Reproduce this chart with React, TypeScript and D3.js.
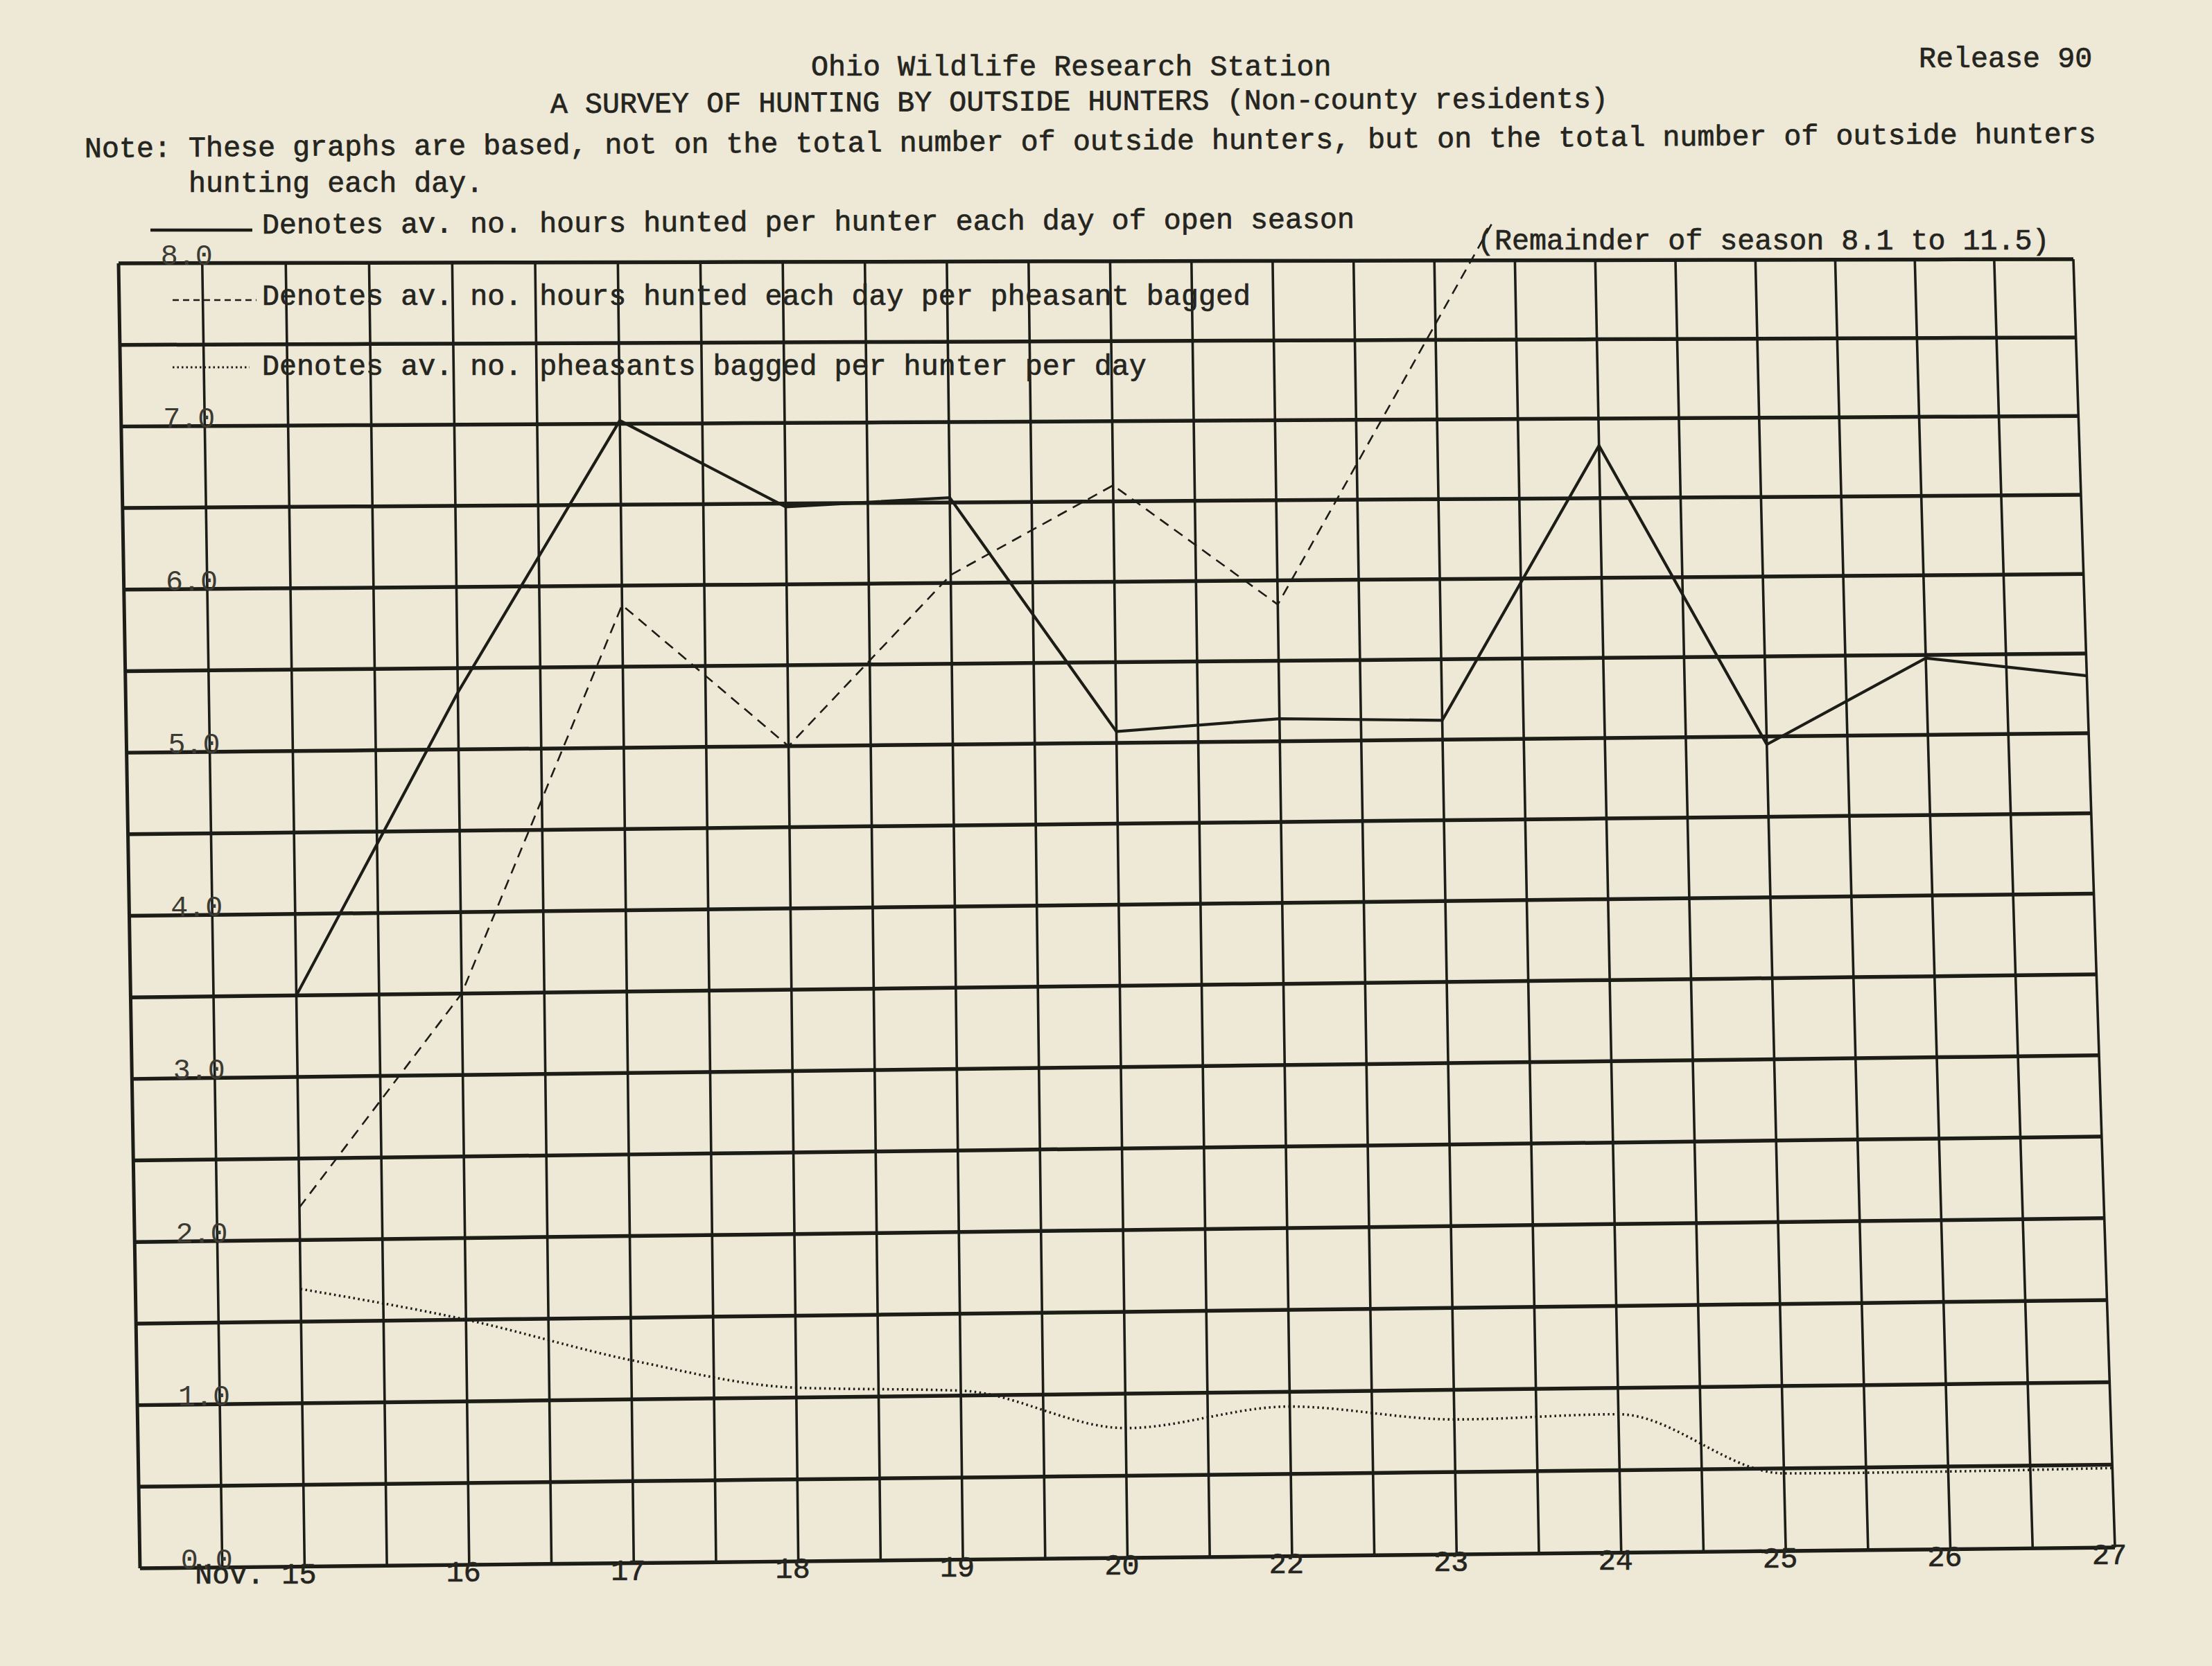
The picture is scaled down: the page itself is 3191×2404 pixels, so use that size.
import React from "react";
import * as d3 from "d3";

// ---------- data ----------
const days = ["Nov. 15", "16", "17", "18", "19", "20", "22", "23", "24", "25", "26", "27"];
// av. no. hours hunted per hunter each day of open season (solid)
const hoursPerHunter = [3.5, 5.35, 7.02, 6.48, 6.53, 5.07, 5.14, 5.12, 6.83, 4.95, 5.48, 5.36];
// av. no. hours hunted each day per pheasant bagged (dashed) – runs off the chart after Nov. 23
const hoursPerPheasant = [2.2, 3.5, 5.88, 5.0, 6.05, 6.6, 5.85, 7.6];
// av. no. pheasants bagged per hunter per day (dotted)
const pheasantsPerHunter = [1.7, 1.5, 1.24, 1.06, 1.03, 0.79, 0.91, 0.82, 0.84, 0.47, 0.47, 0.48];
const yTicks = [0, 1, 2, 3, 4, 5, 6, 7, 8];
const yTickLabels = ["0.0", "1.0", "2.0", "3.0", "4.0", "5.0", "6.0", "7.0", "8.0"];
const legendLabels = [
  "Denotes av. no. hours hunted per hunter each day of open season",
  "Denotes av. no. hours hunted each day per pheasant bagged",
  "Denotes av. no. pheasants bagged per hunter per day",
];

// ---------- layout ----------
const W = 3191;
const H = 2404;
const GRID_COLS = 24; // half-day columns
const GRID_ROWS = 16; // half-unit rows
// corners of the (slightly skewed) sheet grid
const TL: [number, number] = [171, 380];
const TR: [number, number] = [2991, 374];
const BL: [number, number] = [202, 2263];
const BR: [number, number] = [3051, 2233];
// small paper bow corrections
const BOW_U = 0.029;
const BOW_V = 0.03;

const PAPER = "#eee8d6";
const INK = "#1d1d18";
const TEXT_INK = "#25251f";
const FONT = "'Liberation Mono', 'DejaVu Sans Mono', monospace";
const FS = 41.7;

const warp = (u0: number, v0: number): [number, number] => {
  const u = u0 + BOW_U * u0 * (1 - u0) * (1 - v0);
  const v = v0 - BOW_V * u0 * v0 * (1 - v0);
  const a = (1 - u) * (1 - v), b = u * (1 - v), c = (1 - u) * v, d = u * v;
  return [
    a * TL[0] + b * TR[0] + c * BL[0] + d * BR[0],
    a * TL[1] + b * TR[1] + c * BL[1] + d * BR[1],
  ];
};

const xCol = d3.scaleLinear().domain([0, GRID_COLS]).range([0, 1]);
const xDay = d3.scalePoint<string>().domain(days).range([xCol(2), xCol(GRID_COLS)]);
const yVal = d3.scaleLinear().domain([8, 0]).range([0, 1]);

const line = d3.line<[number, number]>().x((p) => p[0]).y((p) => p[1]);
const smooth = d3
  .line<[number, number]>()
  .x((p) => p[0])
  .y((p) => p[1])
  .curve(d3.curveMonotoneX);

const pts = (vals: number[]) => vals.map((v, i) => warp(xDay(days[i])!, yVal(v)));

// straight grid line sampled through the warp so it follows the bow
const gridPath = (f: (s: number) => [number, number]) =>
  line(d3.range(0, 1.0001, 1 / 16).map((s) => f(s)))!;

export default function App() {
  const cols = d3.range(GRID_COLS + 1);
  const rows = d3.range(GRID_ROWS + 1).map((r) => r * 0.5);

  const solidPts = pts(hoursPerHunter);
  const dashPts = pts(hoursPerPheasant);
  const dotPts = pts(pheasantsPerHunter);

  // leader from the last dashed point toward the "(Remainder ...)" note
  const noteX = 2131;
  const noteY = 360;
  const p1 = dashPts[dashPts.length - 2];
  const p2 = dashPts[dashPts.length - 1];
  const t = (noteY - 44 - p2[1]) / (p2[1] - p1[1]);
  const leaderEnd: [number, number] = [p2[0] + t * (p2[0] - p1[0]), p2[1] + t * (p2[1] - p1[1])];

  const textStyle = { stroke: TEXT_INK, strokeWidth: 0.7 };

  return (
    <svg
      width={W}
      height={H}
      viewBox={`0 0 ${W} ${H}`}
      style={{ position: "absolute", left: 0, top: 0, display: "block" }}
    >
      <rect x={0} y={0} width={W} height={H} fill={PAPER} />

      {/* header text */}
      <g fontFamily={FONT} fontSize={FS} fill={TEXT_INK} style={textStyle}>
        <text x={1170} y={109}>Ohio Wildlife Research Station</text>
        <text x={2768} y={97}>Release 90</text>
        <text x={794} y={163} transform="rotate(-0.3 794 163)">
          A SURVEY OF HUNTING BY OUTSIDE HUNTERS (Non-county residents)
        </text>
        <text x={122} y={227} transform="rotate(-0.42 122 227)">
          Note: These graphs are based, not on the total number of outside hunters, but on the total number of outside hunters
        </text>
        <text x={272} y={277}>hunting each day.</text>
      </g>

      {/* grid */}
      <g stroke={INK} fill="none">
        {cols.map((k) => (
          <path
            key={"c" + k}
            d={gridPath((s) => warp(xCol(k), s))}
            strokeWidth={k === 0 ? 5 : 3.6}
          />
        ))}
        {rows.map((r) => (
          <path key={"r" + r} d={gridPath((s) => warp(s, yVal(r)))} strokeWidth={5.5} />
        ))}
      </g>

      {/* y tick labels */}
      <g fontFamily={FONT} fontSize={FS} fill="#3b3b34" textAnchor="end">
        {yTicks.map((tk, i) => {
          const [x, y] = warp(xCol(1), yVal(tk));
          return (
            <text key={tk} x={x + 15} y={y + 2}>
              {yTickLabels[i]}
            </text>
          );
        })}
      </g>

      {/* x labels */}
      <g fontFamily={FONT} fontSize={FS} fill={TEXT_INK} textAnchor="end" style={textStyle}>
        {days.map((d) => {
          const [x, y] = warp(xDay(d)!, 1);
          return (
            <text key={d} x={x + 17} y={y + 24}>
              {d}
            </text>
          );
        })}
      </g>

      {/* legend */}
      <g fontFamily={FONT} fontSize={FS} fill={TEXT_INK} style={textStyle}>
        <text x={378} y={337} transform="rotate(-0.3 378 337)">{legendLabels[0]}</text>
        <text x={378} y={440}>{legendLabels[1]}</text>
        <text x={378} y={541}>{legendLabels[2]}</text>
      </g>
      <g stroke={INK} fill="none">
        <line x1={217} y1={332} x2={364} y2={332} strokeWidth={4.5} />
        <line x1={249} y1={433} x2={370} y2={433} strokeWidth={2.5} strokeDasharray="9 6" />
        <line x1={249} y1={530} x2={360} y2={530} strokeWidth={3.2} strokeDasharray="2.5 4" />
      </g>

      {/* data series */}
      <path d={line(solidPts)!} fill="none" stroke={INK} strokeWidth={4.2} strokeLinejoin="miter" />
      <path d={line(dashPts)!} fill="none" stroke={INK} strokeWidth={2.6} strokeDasharray="15 10" />
      <path
        d={line([dashPts[dashPts.length - 1], leaderEnd])!}
        fill="none"
        stroke={INK}
        strokeWidth={2.6}
        strokeDasharray="15 10"
      />
      <path d={smooth(dotPts)!} fill="none" stroke={INK} strokeWidth={3.6} strokeDasharray="2.5 4.5" />

      {/* note on the off-chart part of the dashed series */}
      <text x={noteX} y={noteY} fontFamily={FONT} fontSize={FS} fill={TEXT_INK} style={textStyle}>
        (Remainder of season 8.1 to 11.5)
      </text>
    </svg>
  );
}
